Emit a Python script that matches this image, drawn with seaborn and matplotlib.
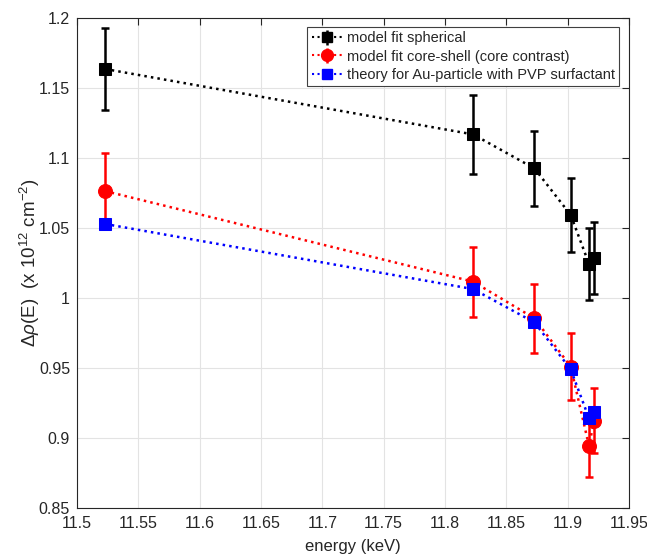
import numpy as np
import pandas as pd
import matplotlib
matplotlib.use("Agg")
import matplotlib.pyplot as plt
import seaborn as sns

# ---- data ----
energy = [11.523, 11.823, 11.873, 11.9026, 11.9175, 11.9216]
sph_y = [1.1636, 1.1169, 1.0926, 1.0593, 1.0243, 1.0288]
sph_err = [0.029, 0.028, 0.027, 0.0265, 0.0256, 0.0256]
cs_y = [1.0764, 1.0117, 0.9855, 0.9510, 0.8943, 0.9124]
cs_err = [0.027, 0.025, 0.0247, 0.0240, 0.0219, 0.0230]
th_y = [1.0529, 1.0064, 0.9826, 0.9490, 0.9140, 0.9183]

labels = ["model fit spherical",
          "model fit core-shell (core contrast)",
          "theory for Au-particle with PVP surfactant"]
xticks = [11.5, 11.55, 11.6, 11.65, 11.7, 11.75, 11.8, 11.85, 11.9, 11.95]
yticks = [0.85, 0.9, 0.95, 1.0, 1.05, 1.1, 1.15, 1.2]
xtick_labels = ["11.5", "11.55", "11.6", "11.65", "11.7", "11.75", "11.8", "11.85", "11.9", "11.95"]
ytick_labels = ["0.85", "0.9", "0.95", "1", "1.05", "1.1", "1.15", "1.2"]

sns.set_style("whitegrid")
plt.rcParams['font.family'] = ['Liberation Sans', 'DejaVu Sans']
plt.rcParams['mathtext.fontset'] = 'custom'
plt.rcParams['mathtext.rm'] = 'Liberation Sans'
plt.rcParams['mathtext.it'] = 'Liberation Sans:italic'

fig = plt.figure(figsize=(6.47, 5.58), dpi=100)
ax = fig.add_axes([0.119, 0.0896, 0.853, 0.878])

df = pd.DataFrame({
    "energy": energy * 3,
    "value": sph_y + cs_y + th_y,
    "series": [labels[0]] * 6 + [labels[1]] * 6 + [labels[2]] * 6,
})
palette = {labels[0]: "black", labels[1]: "#ff0000", labels[2]: "#0000ff"}
markers = {labels[0]: "s", labels[1]: "o", labels[2]: "s"}
sizes_ms = {labels[0]: 8.5, labels[1]: 10, labels[2]: 8}

err_data = {labels[0]: sph_err, labels[1]: cs_err, labels[2]: None}
series_y = {labels[0]: sph_y, labels[1]: cs_y, labels[2]: th_y}

for lab in labels:
    sub = df[df.series == lab]
    sns.lineplot(data=sub, x="energy", y="value", ax=ax, sort=False,
                 color=palette[lab], linestyle=":", linewidth=1.8,
                 marker=markers[lab], markersize=sizes_ms[lab],
                 markeredgecolor=palette[lab], legend=False, zorder=3)
    if err_data[lab] is not None:
        ax.errorbar(energy, series_y[lab], yerr=err_data[lab], fmt="none",
                    ecolor=palette[lab], elinewidth=1.8, capsize=3,
                    capthick=1.8, zorder=2)

# legend proxies
handles = []
for lab in labels:
    if err_data[lab] is not None:
        h = ax.errorbar([], [], yerr=[], fmt=":" + markers[lab],
                        color=palette[lab], ms=sizes_ms[lab] * 0.85,
                        lw=1.5, elinewidth=1.8, capsize=2.5, capthick=1.8)
    else:
        h, = ax.plot([], [], ":" + markers[lab], color=palette[lab],
                     ms=sizes_ms[lab] * 0.95, lw=1.5)
    handles.append(h)
leg = ax.legend(handles, labels, loc="upper right", fontsize=10.5,
                frameon=True, fancybox=False, framealpha=1,
                edgecolor="#404040", handlelength=2.1, handletextpad=0.3,
                borderpad=0.3, labelspacing=0.28, borderaxespad=0,
                bbox_to_anchor=(0.982, 0.9816))
leg.get_frame().set_linewidth(0.8)

ax.set_xlim(11.5, 11.95)
ax.set_ylim(0.85, 1.2)
ax.set_xticks(xticks)
ax.set_xticklabels(xtick_labels)
ax.set_yticks(yticks)
ax.set_yticklabels(ytick_labels)
ax.grid(True, color="#e3e3e3", linewidth=0.8)
ax.tick_params(direction="in", length=5, width=0.8, colors="#262626",
               labelsize=11.5, top=True, right=True)
ax.tick_params(axis="x", pad=6)
ax.tick_params(axis="y", pad=5)
for lab in ax.get_xticklabels() + ax.get_yticklabels():
    lab.set_color("#262626")
for sp in ax.spines.values():
    sp.set_color("#262626")
    sp.set_linewidth(0.8)
    sp.set_visible(True)
ax.set_xlabel("energy (keV)", fontsize=12, color="#262626")
ax.set_ylabel(r"$\Delta\rho$(E)  (x 10$^{12}$ cm$^{-2}$)", fontsize=13.5,
              color="#262626")
ax.xaxis.set_label_coords(0.5, -0.063)
ax.yaxis.set_label_coords(-0.064, 0.5)

fig.savefig("out.png", dpi=100)
